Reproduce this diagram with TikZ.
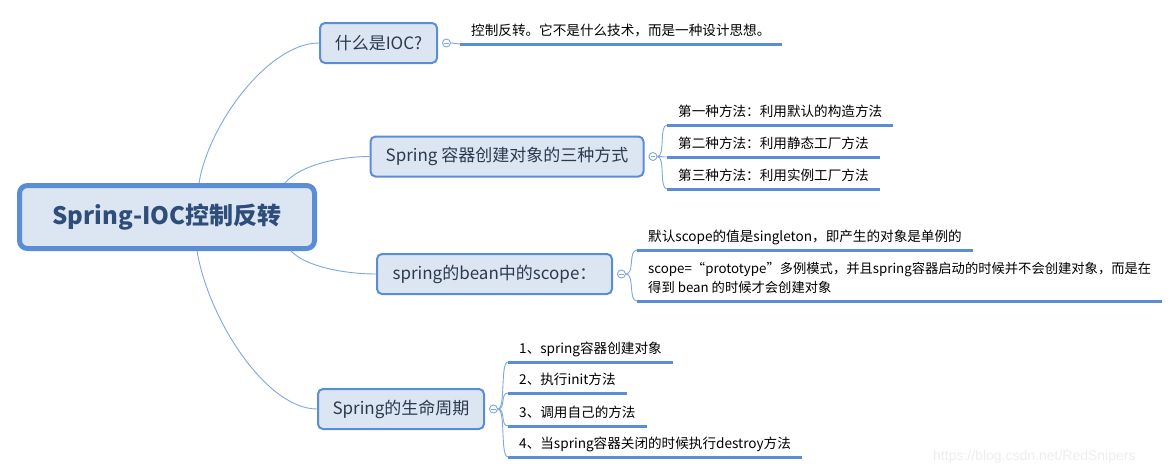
\documentclass[tikz,border=0pt]{standalone}
\usepackage{fontspec}
\setmainfont{Noto Sans CJK SC}
\newfontfamily\markfont{Liberation Sans}
\usetikzlibrary{positioning}
\definecolor{topicblue}{HTML}{5B8DD6}
\definecolor{topicfill}{HTML}{DCE6F2}
\definecolor{branchblue}{HTML}{7FA7DF}
\definecolor{roottext}{HTML}{2E4D7B}
\definecolor{topictext}{HTML}{2B3A4E}

\begin{document}
\begin{tikzpicture}[x=1pt, y=-1pt,
  root/.style={draw=topicblue, line width=5pt, fill=topicfill, rounded corners=8pt,
    minimum width=295pt, minimum height=63pt, inner sep=0pt,
    font=\bfseries\fontsize{24}{28}\selectfont, text=roottext},
  topic/.style={draw=topicblue, line width=2pt, fill=topicfill, rounded corners=5pt,
    minimum height=40pt, inner sep=0pt, font=\fontsize{17}{20}\selectfont, text=topictext},
  fold/.style={circle, draw=branchblue, fill=white, line width=0.9pt, minimum size=8pt, inner sep=0pt,
    path picture={\draw[branchblue, line width=0.9pt]
      ([xshift=-2.3pt]path picture bounding box.center) -- ([xshift=2.3pt]path picture bounding box.center);}},
  leaf/.style={anchor=south west, font=\fontsize{13.6}{19}\selectfont, inner xsep=11pt, inner ysep=5pt,
    text height=10pt, text depth=3pt},
  leafwide/.style={anchor=south west, font=\fontsize{13.3}{19}\selectfont, inner xsep=11pt, inner ysep=5pt,
    text depth=3pt, align=left},
  uline/.style={draw=topicblue, line width=3pt},
  branch/.style={draw=branchblue, line width=0.9pt},
]
\useasboundingbox (0,0) rectangle (1173,474);

% central topic
\node[root] (root) at (167,217) {Spring-IOC控制反转};

% main topics
\node[topic, minimum width=117pt] (ioc) at (378.5,43) {什么是IOC?};
\node[topic, minimum width=273pt] (make) at (507,156.5) {Spring 容器创建对象的三种方式};
\node[topic, minimum width=235pt] (scope) at (494.5,274) {spring的bean中的scope：};
\node[topic, minimum width=166pt] (life) at (401,409) {Spring的生命周期};

\draw[branch] ([xshift=32pt]root.north) .. controls +(10,-60) and +(-50,0) .. (ioc.west);
\draw[branch] ([xshift=118pt]root.north) .. controls +(15,-18) and +(-30,0) .. (make.west);
\draw[branch] ([xshift=124pt]root.south) .. controls +(15,16) and +(-30,0) .. (scope.west);
\draw[branch] ([xshift=30pt]root.south) .. controls +(12,70) and +(-50,0) .. (life.west);

% fold buttons
\node[fold, right=4pt of ioc] (iocf) {};
\node[fold, right=4pt of make] (makef) {};
\node[fold, right=4pt of scope] (scopef) {};
\node[fold, right=4pt of life] (lifef) {};

% what is IOC
\node[leaf] (i1) at (460,44) {控制反转。它不是什么技术，而是一种设计思想。};
\draw[branch] (iocf.east) -- (i1.south west);
\draw[uline] (i1.south west) -- (i1.south east);

% three ways
\node[leaf] (s1) at (667,125) {第一种方法：利用默认的构造方法};
\node[leaf] (s2) at (667,157) {第二种方法：利用静态工厂方法};
\node[leaf] (s3) at (667,189) {第三种方法：利用实例工厂方法};
\foreach \n in {s1,s2,s3} {
  \draw[branch] (makef.east) .. controls +(8,0) and +(-8,0) .. (\n.south west);
  \draw[uline] (\n.south west) -- (\n.south east);
}

% scope
\node[leaf] (p1) at (637,250) {默认scope的值是singleton，即产生的对象是单例的};
\node[leafwide] (p2) at (637,301) {scope=“prototype”多例模式，并且spring容器启动的时候并不会创建对象，而是在\\得到 bean 的时候才会创建对象};
\foreach \n in {p1,p2} {
  \draw[branch] (scopef.east) .. controls +(9,0) and +(-9,0) .. (\n.south west);
  \draw[uline] (\n.south west) -- (\n.south east);
}

% life cycle
\node[leaf] (l1) at (508,362) {1、spring容器创建对象};
\node[leaf] (l2) at (508,393) {2、执行init方法};
\node[leaf] (l3) at (508,426) {3、调用自己的方法};
\node[leaf] (l4) at (508,457) {4、当spring容器关闭的时候执行destroy方法};
\foreach \n in {l1,l2,l3,l4} {
  \draw[branch] (lifef.east) .. controls +(8,0) and +(-8,0) .. (\n.south west);
  \draw[uline] (\n.south west) -- (\n.south east);
}

\node[anchor=west, font=\markfont\fontsize{14}{16}\selectfont, text=black!7, inner sep=0pt] (mark) at (933,457) {https://blog.csdn.net/RedSnipers};
\end{tikzpicture}
\end{document}
